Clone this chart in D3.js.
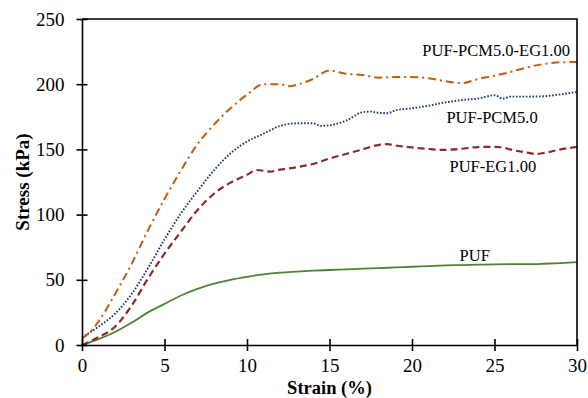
<!DOCTYPE html>
<html>
<head>
<meta charset="utf-8">
<script src="https://cdn.jsdelivr.net/npm/d3@7"></script>
<style>
  html, body { margin: 0; padding: 0; background: #fff; }
  svg { display: block; }
  svg text { font-family: "Liberation Serif", "Times New Roman", Times, serif; fill: #000; }
</style>
</head>
<body>
<svg id="chart" width="588" height="398"></svg>
<script>
// Stress–strain curves of the foam samples (strain in %, stress in kPa)
const pufStrain = [0, 1, 2, 3, 4, 5, 6, 7, 8, 9, 10, 11, 12, 13, 14, 15, 16, 17, 18, 19, 20, 21, 22, 23, 24, 25, 26, 27, 28, 29, 30];
const pufStress = [0, 4.5, 10, 17, 25, 31.5, 38, 43, 47, 50, 52.3, 54.2, 55.5, 56.3, 57, 57.5, 58, 58.5, 59, 59.5, 60, 60.5, 61, 61.3, 61.6, 61.9, 62, 62, 62.3, 62.8, 63.5];

const pcmStrain = [0, 1, 2, 3, 4, 5, 6, 7, 8, 9, 10, 11, 12, 13, 14, 14.5, 15, 16, 17, 17.5, 18, 18.5, 19, 20, 21, 22, 23, 24, 25, 25.5, 26, 27, 28, 29, 30];
const pcmStress = [6, 14, 24, 39, 59, 81, 101, 118, 134, 147, 156, 162, 168, 170, 170, 168, 168.5, 172, 178.5, 179, 178, 177.7, 180, 181.5, 183.5, 186, 187.8, 189, 191.5, 189, 190.5, 190.5, 190.8, 192.2, 194];

const egStrain = [0, 1, 2, 3, 4, 5, 6, 7, 8, 9, 10, 10.6, 11.4, 12, 13, 14, 15, 16, 17, 18, 18.5, 19, 20, 21, 22, 23, 24, 25, 25.5, 26, 27, 27.5, 28, 29, 30];
const egStress = [0, 6, 14, 30, 51, 70, 87, 103.5, 116, 124.5, 130.5, 134.2, 133, 134.5, 136.3, 138.8, 143, 146.5, 150, 153.5, 154, 153, 151.5, 150.3, 149.6, 150.5, 151.8, 152, 151.5, 149.8, 147.5, 146.5, 147.3, 150, 152];

const pcmEgStrain = [0, 0.5, 1, 2, 3, 4, 5, 6, 7, 8, 9, 10, 11, 12, 12.6, 13, 14, 15, 16, 17, 18, 19, 20, 21, 22, 23, 24, 25, 26, 27, 28, 29, 30];
const pcmEgStress = [5, 10, 18, 39, 62, 88, 112, 134, 154, 169, 181.5, 192, 200, 200, 198.5, 199.5, 204, 210.5, 208, 207, 205, 205.5, 205.5, 204.5, 202.3, 200.8, 204, 206.5, 209.5, 213, 215.5, 216.8, 217];

const seriesNames = ["PUF", "PUF-PCM5.0", "PUF-EG1.00", "PUF-PCM5.0-EG1.00"];
const xTicks = [0, 5, 10, 15, 20, 25, 30];
const yTicks = [0, 50, 100, 150, 200, 250];

const FONT = "'Liberation Serif', 'Times New Roman', Times, serif";

const svg = d3.select("#chart");
const margin = { left: 82, right: 11, top: 19, bottom: 53 };
const W = 588, H = 398;

const x = d3.scaleLinear().domain([0, 30]).range([margin.left, W - margin.right]);
const y = d3.scaleLinear().domain([0, 250]).range([H - margin.bottom, margin.top]);

const zip = (xs, ys) => xs.map((v, i) => [v, ys[i]]);

const series = [
  { name: seriesNames[0], data: zip(pufStrain, pufStress), color: "#538135", dash: null, width: 1.8 },
  { name: seriesNames[1], data: zip(pcmStrain, pcmStress), color: "#1F3864", dash: "1.6,1.7", width: 1.9 },
  { name: seriesNames[2], data: zip(egStrain, egStress), color: "#8B2B2B", dash: "7,4", width: 2.2 },
  { name: seriesNames[3], data: zip(pcmEgStrain, pcmEgStress), color: "#C55A11", dash: "8,4,2,4", width: 2 }
];

const line = d3.line()
  .x(d => x(d[0]))
  .y(d => y(d[1]))
  .curve(d3.curveMonotoneX);

// curves
svg.append("g").selectAll("path")
  .data(series)
  .join("path")
  .attr("d", d => line(d.data))
  .attr("fill", "none")
  .attr("stroke", d => d.color)
  .attr("stroke-width", d => d.width)
  .attr("stroke-dasharray", d => d.dash);

// frame: top and right edges
svg.append("path")
  .attr("d", `M${x(0)},${y(250)}H${x(30)}V${y(0)}`)
  .attr("fill", "none")
  .attr("stroke", "#000")
  .attr("stroke-width", 1.6);

// x axis with ticks crossing the line
const xAxis = svg.append("g")
  .attr("transform", `translate(0,${y(0)})`)
  .call(d3.axisBottom(x).tickValues(xTicks).tickSize(6).tickPadding(8).tickSizeOuter(0));
xAxis.attr("font-family", FONT);
xAxis.select(".domain").attr("stroke-width", 1.6);
xAxis.selectAll(".tick line").attr("y1", -6).attr("stroke-width", 1.6);
xAxis.selectAll(".tick text")
  .style("font-family", FONT)
  .attr("font-size", 19)
  .attr("fill", "#000");

const yAxis = svg.append("g")
  .attr("transform", `translate(${x(0)},0)`)
  .call(d3.axisLeft(y).tickValues(yTicks).tickSize(5.5).tickPadding(12).tickSizeOuter(0));
yAxis.attr("font-family", FONT);
yAxis.select(".domain").attr("stroke-width", 1.6);
yAxis.selectAll(".tick line").attr("x1", 5.5).attr("stroke-width", 1.6);
yAxis.selectAll(".tick text")
  .style("font-family", FONT)
  .attr("font-size", 19)
  .attr("fill", "#000");

// axis titles
svg.append("text")
  .attr("x", (x(0) + x(30)) / 2)
  .attr("y", 394)
  .attr("text-anchor", "middle")
  .style("font-family", FONT)
  .attr("font-size", 18.5)
  .attr("font-weight", "bold")
  .text("Strain (%)");

svg.append("text")
  .attr("transform", `translate(29,${(y(0) + y(250)) / 2}) rotate(-90)`)
  .attr("text-anchor", "middle")
  .style("font-family", FONT)
  .attr("font-size", 19)
  .attr("font-weight", "bold")
  .text("Stress (kPa)");

// curve labels
const labelPos = [
  { name: seriesNames[0], sx: 23.8, sy: 64.5 },
  { name: seriesNames[1], sx: 24.85, sy: 170 },
  { name: seriesNames[2], sx: 24.9, sy: 132.5 },
  { name: seriesNames[3], sx: 25.1, sy: 221.5 }
];
svg.append("g").selectAll("text")
  .data(labelPos)
  .join("text")
  .attr("x", d => x(d.sx))
  .attr("y", d => y(d.sy))
  .attr("text-anchor", "middle")
  .style("font-family", FONT)
  .attr("font-size", 16.5)
  .text(d => d.name);
</script>
</body>
</html>
